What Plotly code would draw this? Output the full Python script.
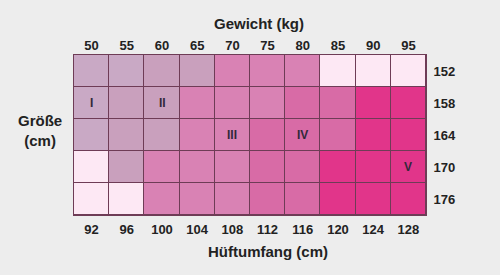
import plotly.graph_objects as go

weights = [50, 55, 60, 65, 70, 75, 80, 85, 90, 95]
hips = [92, 96, 100, 104, 108, 112, 116, 120, 124, 128]
heights = [152, 158, 164, 170, 176]
# size category per cell (0 = none, 1..5 = I..V)
sizes = [
    [1, 1, 2, 2, 3, 3, 3, 0, 0, 0],
    [1, 2, 2, 3, 3, 3, 4, 4, 5, 5],
    [1, 2, 2, 3, 3, 4, 4, 4, 5, 5],
    [0, 2, 3, 3, 3, 4, 4, 5, 5, 5],
    [0, 0, 3, 3, 3, 4, 4, 5, 5, 5],
]
size_labels = ["I", "II", "III", "IV", "V"]
label_cells = [(1, 0), (1, 2), (2, 4), (2, 6), (3, 9)]  # (row, col)

colors = ["#fde8f4", "#c9a9c5", "#c9a0bd", "#d982b4", "#d86ba6", "#e1358a"]
cscale = [[i / 5, c] for i, c in enumerate(colors)]
grid = "#6e3c56"
font = "Liberation Sans, Arial, sans-serif"

xi = list(range(len(hips)))
yi = list(range(len(heights)))

def b(v):
    return "<b>" + str(v) + "</b>"

fig = go.Figure()
fig.add_trace(go.Heatmap(z=sizes, x=xi, y=yi, zmin=0, zmax=5, colorscale=cscale,
                         showscale=False, xgap=1, ygap=1, hoverinfo="skip"))
fig.add_trace(go.Scatter(x=list(range(len(weights))), y=[0] * len(weights), xaxis="x2",
                         mode="markers", marker=dict(opacity=0), hoverinfo="skip",
                         showlegend=False))

for lab, (r, c) in zip(size_labels, label_cells):
    fig.add_annotation(x=c, y=r, text=b(lab), showarrow=False,
                       font=dict(family=font, size=12, color="#33283a"))

tickfont = dict(family=font, size=13, color="#222222")
fig.update_layout(
    width=500, height=275,
    margin=dict(l=74, r=74, t=55, b=60),
    paper_bgcolor="#ededed", plot_bgcolor=grid,
    xaxis=dict(range=[-0.5, 9.5], tickvals=xi, ticktext=[b(h) for h in hips],
               showgrid=False, zeroline=False, ticks="", ticklabelstandoff=2,
               showline=True, linecolor=grid, linewidth=1, mirror=True,
               tickfont=tickfont, fixedrange=True),
    xaxis2=dict(range=[-0.5, 9.5], overlaying="x", side="top",
                tickvals=list(range(len(weights))), ticktext=[b(w) for w in weights],
                showgrid=False, zeroline=False, ticks="", tickfont=tickfont,
                ticklabelstandoff=1),
    yaxis=dict(range=[4.5, -0.5], side="right", tickvals=yi,
               ticktext=[b(h) for h in heights], showgrid=False, zeroline=False,
               ticks="", showline=True, linecolor=grid, linewidth=1, mirror=True,
               tickfont=tickfont, ticklabelstandoff=4),
    showlegend=False,
)

titlefont = dict(family=font, size=15, color="#222222")
fig.add_annotation(xref="paper", yref="paper", x=(259 - 74) / 352, y=1 + (55 - 23) / 160,
                   text=b("Gewicht (kg)"), showarrow=False, font=titlefont,
                   xanchor="center", yanchor="middle")
fig.add_annotation(xref="paper", yref="paper", x=(268 - 74) / 352, y=-(251 - 215) / 160,
                   text=b("Hüftumfang (cm)"), showarrow=False, font=titlefont,
                   xanchor="center", yanchor="middle")
fig.add_annotation(xref="paper", yref="paper", x=(40 - 74) / 352, y=(215 - 130) / 160,
                   text=b("Größe") + "<br>" + b("(cm)"), showarrow=False, font=titlefont,
                   xanchor="center", yanchor="middle", align="center")

fig.write_html("out.html")
